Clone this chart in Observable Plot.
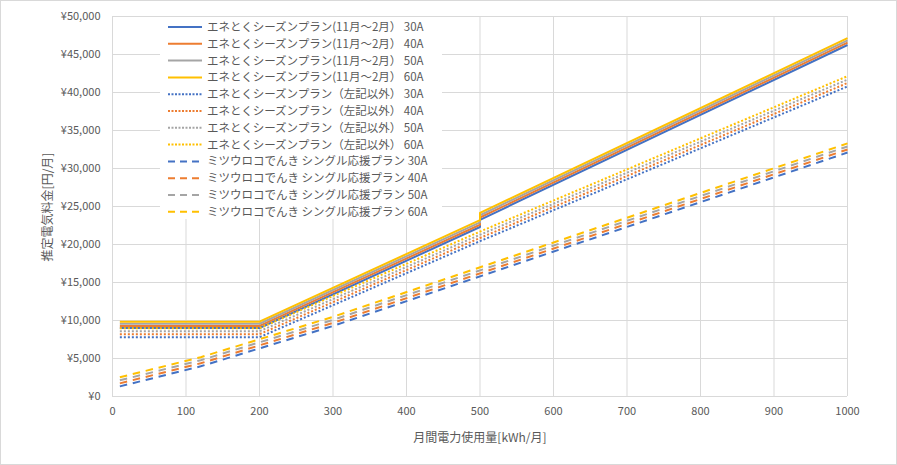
<!DOCTYPE html>
<html>
<head>
<meta charset="utf-8">
<script src="https://cdn.jsdelivr.net/npm/d3@7"></script>
<script src="https://cdn.jsdelivr.net/npm/@observablehq/plot@0.6"></script>
<style>
  body { margin: 0; background: #fff; }
  #wrap { position: relative; width: 897px; height: 465px; overflow: hidden; background: #fff;
          font-family: "Noto Sans CJK JP", "Noto Sans", sans-serif; }
  #frame { position: absolute; left: 0; top: 0; width: 895px; height: 463px; border: 1px solid #d9d9d9; pointer-events: none; }
  .title { position: absolute; color: #595959; font-size: 12px; white-space: nowrap; }
  #xtitle { left: 380px; width: 200px; text-align: center; top: 428px; }
  #ytitle { left: 46px; top: 207px; transform: translate(-50%, -50%) rotate(-90deg); }
  #legend { position: absolute; left: 160px; top: 17px; }
</style>
</head>
<body>
<div id="wrap">
  <div id="chart"></div>
  <div id="legend"></div>
  <div class="title" id="xtitle">月間電力使用量[kWh/月]</div>
  <div class="title" id="ytitle">推定電気料金[円/月]</div>
  <div id="frame"></div>
</div>
<script>
// ---- data ----
const amps = ["30A", "40A", "50A", "60A"];
const colors = ["#4472C4", "#ED7D31", "#A5A5A5", "#FFC000"];

const xTicks = [0, 100, 200, 300, 400, 500, 600, 700, 800, 900, 1000];
const yTicks = [0, 5000, 10000, 15000, 20000, 25000, 30000, 35000, 40000, 45000, 50000];

// エネとくシーズンプラン(11月～2月）
const winterX  = [10, 200, 500, 500, 1000];
const winter30 = [9010, 9010, 22300, 23250, 46250];
const winter40 = [9290, 9290, 22600, 23550, 46550];
const winter50 = [9570, 9570, 22900, 23850, 46850];
const winter60 = [9850, 9850, 23200, 24150, 47150];

// エネとくシーズンプラン（左記以外）
const otherX  = [10, 200, 500, 1000];
const other30 = [7800, 7800, 20440, 40800];
const other40 = [8200, 8200, 20860, 41250];
const other50 = [8590, 8590, 21280, 41700];
const other60 = [8980, 8980, 21700, 42150];

// ミツウロコでんき シングル応援プラン
const singleX  = [10, 120, 300, 1000];
const single30 = [1330, 3970, 9280, 32100];
const single40 = [1730, 4370, 9680, 32500];
const single50 = [2130, 4770, 10080, 32900];
const single60 = [2530, 5170, 10480, 33300];

const groups = [
  {name: "エネとくシーズンプラン(11月～2月）", xs: winterX, ys: [winter30, winter40, winter50, winter60], dash: null, legendDash: null},
  {name: "エネとくシーズンプラン（左記以外）", xs: otherX, ys: [other30, other40, other50, other60], dash: "2 2", legendDash: "2 1.5"},
  {name: "ミツウロコでんき シングル応援プラン", xs: singleX, ys: [single30, single40, single50, single60], dash: "7.5 5.8", legendDash: "7 5"}
];

// ---- chart ----
const lineMarks = [];
groups.forEach(g => {
  g.ys.forEach((ys, i) => {
    const data = g.xs.map((x, j) => ({x, y: ys[j]}));
    lineMarks.push(Plot.line(data, {
      x: "x", y: "y", stroke: colors[i], strokeWidth: 2,
      strokeDasharray: g.dash ?? undefined, strokeLinecap: "butt", strokeLinejoin: "round"
    }));
  });
});

const chart = Plot.plot({
  width: 897, height: 465,
  marginLeft: 112, marginRight: 50, marginTop: 16, marginBottom: 69,
  style: {fontSize: "11px", color: "#595959", fontFamily: '"Noto Sans CJK JP", "Noto Sans", sans-serif', background: "transparent"},
  x: {domain: [0, 1000], ticks: xTicks, tickSize: 0, tickPadding: 11, label: null, tickFormat: d => String(d)},
  y: {domain: [0, 50000], ticks: yTicks, tickSize: 0, tickPadding: 12, label: null,
      tickFormat: d => "¥" + d3.format(",")(d)},
  marks: [
    Plot.gridX(xTicks, {stroke: "#d9d9d9", strokeOpacity: 1, strokeWidth: 1}),
    Plot.gridY(yTicks, {stroke: "#d9d9d9", strokeOpacity: 1, strokeWidth: 1}),
    ...lineMarks
  ]
});
document.getElementById("chart").appendChild(chart);

// ---- legend ----
const rowH = 16.8;
const lg = d3.select("#legend").append("svg")
  .attr("width", 282).attr("height", 202)
  .style("font-family", '"Noto Sans CJK JP", "Noto Sans", sans-serif')
  .style("font-size", "11.5px");
lg.append("rect").attr("x", 0).attr("y", 0).attr("width", 282).attr("height", 202).attr("fill", "#fff");
let r = 0;
groups.forEach(g => {
  amps.forEach((a, i) => {
    const cy = 10 + r * rowH;
    const ln = lg.append("line").attr("x1", 8).attr("x2", 42).attr("y1", cy).attr("y2", cy)
      .attr("stroke", colors[i]).attr("stroke-width", 2);
    if (g.legendDash) ln.attr("stroke-dasharray", g.legendDash);
    lg.append("text").attr("x", 47).attr("y", cy).attr("dy", "0.35em")
      .attr("fill", "#595959").text(g.name + " " + a);
    r++;
  });
});
</script>
</body>
</html>
